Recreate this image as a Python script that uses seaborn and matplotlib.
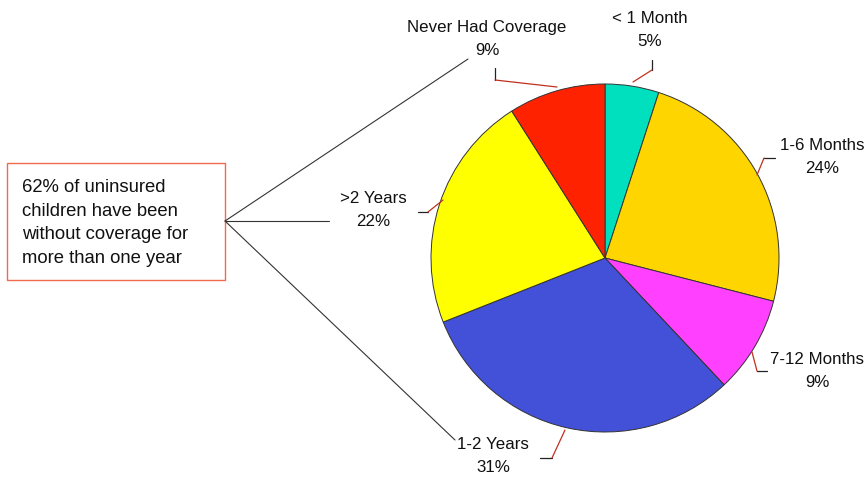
import matplotlib
matplotlib.use("Agg")
import matplotlib.pyplot as plt
import seaborn as sns
from matplotlib.patches import Rectangle

sns.set_style("white")
plt.rcParams['font.family'] = ['Liberation Sans', 'DejaVu Sans']

# data, clockwise from 12 o'clock
categories = ['< 1 Month', '1-6 Months', '7-12 Months', '1-2 Years', '>2 Years', 'Never Had Coverage']
shares = [5, 24, 9, 31, 22, 9]
colors = ['#00E0BE', '#FFD500', '#FF40FF', '#4350D8', '#FFFF00', '#FF2200']
note = '62% of uninsured\nchildren have been\nwithout coverage for\nmore than one year'

W, H = 866, 479
fig = plt.figure(figsize=(W / 100, H / 100), dpi=100)
ax = fig.add_axes([0, 0, 1, 1])


def Y(y):
    # pixel rows (top down) to axes coords
    return H - y


ax.pie(shares, colors=colors, startangle=90, counterclock=False,
       center=(605, Y(258)), radius=174, frame=True,
       wedgeprops=dict(edgecolor='#333333', linewidth=0.7))
ax.set_xlim(0, W)
ax.set_ylim(0, H)
ax.set_aspect('equal')
ax.axis('off')

# label text centres and leader lines (pixel coords)
label_pos = {
    '< 1 Month': (650, 30),
    '1-6 Months': (822, 157),
    '7-12 Months': (817, 371),
    '1-2 Years': (493, 456),
    '>2 Years': (373, 210),
    'Never Had Coverage': (487, 39),
}
leaders = {
    '< 1 Month': [(652, 60), (652, 70), (633, 82)],
    '1-6 Months': [(775, 158), (764, 158), (757, 175)],
    '7-12 Months': [(767, 371), (757, 371), (752, 352)],
    '1-2 Years': [(540, 458), (552, 458), (565, 430)],
    '>2 Years': [(418, 212), (428, 212), (443, 200)],
    'Never Had Coverage': [(495, 68), (495, 80), (557, 87)],
}

for cat, val in zip(categories, shares):
    x, y = label_pos[cat]
    ax.text(x, Y(y), f'{cat}\n{val}%', ha='center', va='center',
            fontsize=12.2, linespacing=1.6, color='#111111')
    pts = leaders[cat]
    ax.plot([pts[0][0], pts[1][0]], [Y(pts[0][1]), Y(pts[1][1])],
            color='#222222', lw=0.9)
    ax.plot([pts[1][0], pts[2][0]], [Y(pts[1][1]), Y(pts[2][1])],
            color='#C0301E', lw=0.9)

# callout box
ax.add_patch(Rectangle((7, Y(280)), 218, 117, facecolor='white',
                       edgecolor='#F06A4E', lw=1.0))
ax.text(22, Y(223), note, ha='left', va='center', fontsize=13.3,
        linespacing=1.5, color='#111111')

for end in [(468, 59), (329, 221), (455, 440)]:
    ax.plot([225, end[0]], [Y(221), Y(end[1])], color='#333333', lw=0.8)

fig.savefig('out.png', dpi=100)
